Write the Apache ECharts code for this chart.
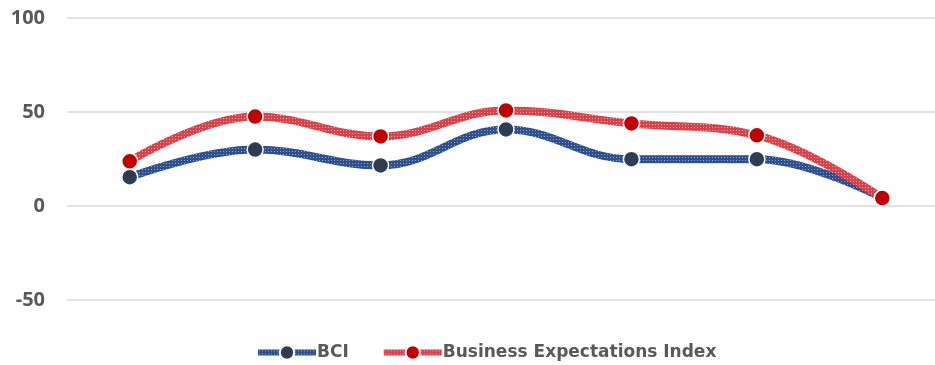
<!DOCTYPE html>
<html><head><meta charset="utf-8">
<script src="https://cdn.jsdelivr.net/npm/echarts@6/dist/echarts.min.js"></script>
<style>html,body{margin:0;padding:0;background:#fff;overflow:hidden}#c{width:945px;height:365px}</style>
</head><body><div id="c"></div>
<script>
const categories = ['1', '2', '3', '4', '5', '6', '7'];
const bciValues = [15.3, 30.0, 21.6, 40.7, 24.9, 24.9, 4.2];
const beiValues = [23.8, 47.6, 37.0, 50.8, 43.9, 37.6, 4.2];
const yTicks = { min: -50, max: 100, interval: 50 };
const seriesNames = ['BCI', 'Business Expectations Index'];

function pattern(bg, fg) {
  const c = document.createElement('canvas');
  c.width = 3; c.height = 3;
  const g = c.getContext('2d');
  g.fillStyle = bg; g.fillRect(0, 0, 3, 3);
  g.fillStyle = fg; g.fillRect(1, 1, 1, 1);
  return { image: c, repeat: 'repeat' };
}

const chart = echarts.init(document.getElementById('c'));
chart.setOption({
  animation: false,
  grid: { left: 67, right: 0, top: 18, bottom: 65 },
  xAxis: {
    type: 'category', data: categories, boundaryGap: true,
    axisLine: { show: false }, axisTick: { show: false }, axisLabel: { show: false }
  },
  yAxis: {
    type: 'value', min: yTicks.min, max: yTicks.max, interval: yTicks.interval,
    axisLine: { show: false }, axisTick: { show: false },
    axisLabel: { color: '#595959', fontSize: 20, fontWeight: 'bold', fontFamily: '"Open Sans", sans-serif', margin: 22 },
    splitLine: { lineStyle: { color: '#d9d9d9', width: 1.5 } }
  },
  legend: {
    bottom: -1, left: 250, itemWidth: 58, itemHeight: 18, itemGap: 32,
    lineStyle: { width: 6 },
    textStyle: { color: '#595959', fontSize: 17, fontWeight: 'bold', fontFamily: '"DejaVu Sans", sans-serif', padding: [0, 0, 0, -4] },
    data: seriesNames
  },
  series: [
    {
      name: seriesNames[0], type: 'line', data: bciValues, smooth: 0.4,
      symbol: 'circle', symbolSize: 16,
      lineStyle: { width: 8, color: pattern('#2f4f8f', '#8fa3c9') },
      itemStyle: { color: '#2e3d52', borderColor: '#fff', borderWidth: 1.5 }
    },
    {
      name: seriesNames[1], type: 'line', data: beiValues, smooth: 0.4,
      symbol: 'circle', symbolSize: 16,
      lineStyle: { width: 8, color: pattern('#d9414b', '#f4a3a8') },
      itemStyle: { color: '#c00000', borderColor: '#fff', borderWidth: 1.5 }
    }
  ]
});
</script></body></html>
